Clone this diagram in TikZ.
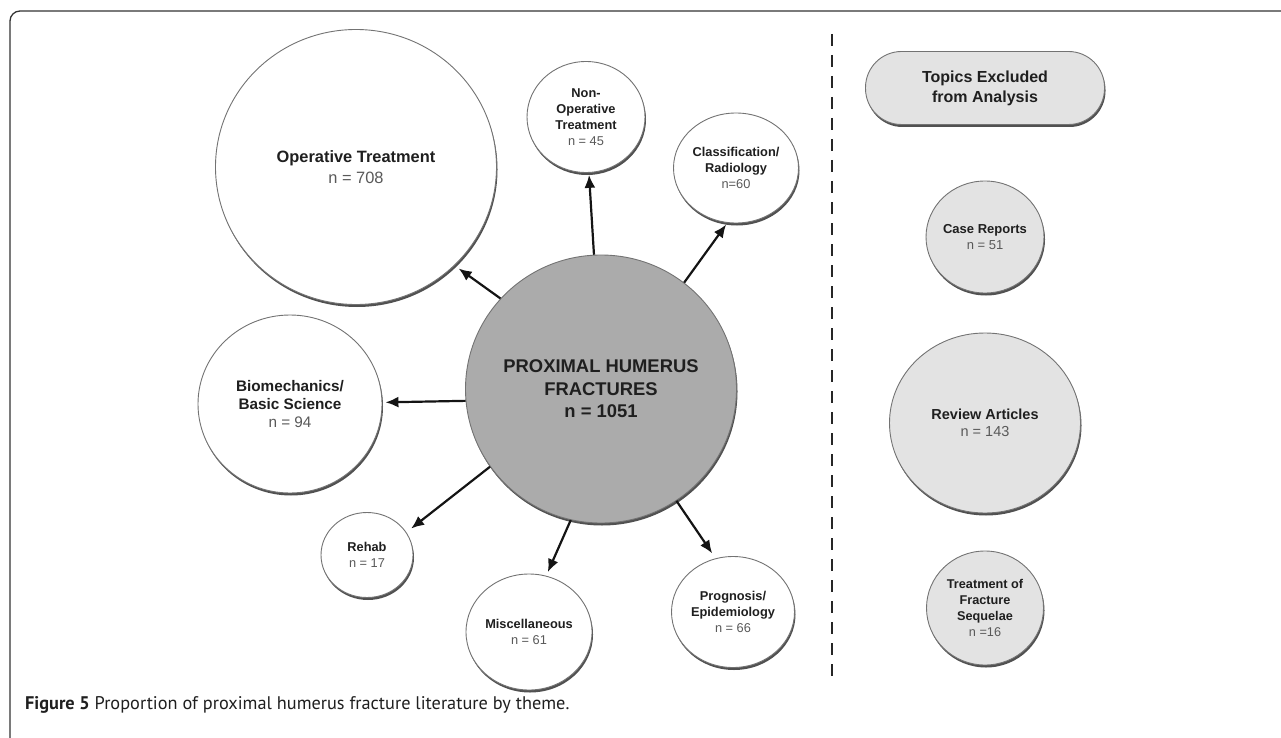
\documentclass[tikz,border=0pt]{standalone}
\usepackage{fontspec}
\setmainfont{Liberation Sans}
\newfontfamily\capfont{PT Sans}
\usetikzlibrary{shapes.geometric,shadows,arrows.meta}
\newcommand{\nl}[1]{{\mdseries\color{black!65}#1}}
\begin{document}
\begin{tikzpicture}[x=1pt,y=-1pt,
  shad/.style={drop shadow={shadow xshift=1pt,shadow yshift=-2.5pt,fill=black!80,opacity=0.85}},
  bub/.style={ellipse,draw=black!55,line width=0.9pt,fill=white,inner sep=-10pt,align=center,text=black!88,shad},
  exbub/.style={bub,fill=black!11},
  arr/.style={-{Latex[length=13pt,width=11pt]},line width=2.2pt,black!92},
  fsmall/.style={font=\bfseries\fontsize{12.8}{16}\selectfont},
]
\useasboundingbox (0,0) rectangle (1281,738);
% frame
\draw[line width=1.3pt,black!80,rounded corners=10pt] (10,11) rectangle (1330,770);

% central
\node[bub,fill=black!33,minimum width=271pt,minimum height=268pt,font=\bfseries\fontsize{18.4}{22.5}\selectfont] (c) at (601,389) {PROXIMAL HUMERUS\\FRACTURES\\n = 1051};

% satellites
\node[bub,minimum width=281pt,minimum height=275pt,font=\bfseries\fontsize{16.4}{21}\selectfont] (op) at (356,167) {Operative Treatment\\\nl{n = 708}};
\node[bub,minimum width=118pt,minimum height=111pt,fsmall] (nonop) at (586,117) {Non-\\Operative\\Treatment\\\nl{n = 45}};
\node[bub,minimum width=125pt,minimum height=110pt,fsmall] (cls) at (736,168) {Classification/\\Radiology\\\nl{n=60}};
\node[bub,minimum width=184pt,minimum height=178pt,font=\bfseries\fontsize{15.3}{18}\selectfont] (bio) at (290,404) {Biomechanics/\\Basic Science\\\nl{n = 94}};
\node[bub,minimum width=92pt,minimum height=85pt,fsmall] (reh) at (367,555) {Rehab\\\nl{n = 17}};
\node[bub,minimum width=126pt,minimum height=116pt,fsmall] (misc) at (529,632) {Miscellaneous\\\nl{n = 61}};
\node[bub,minimum width=123pt,minimum height=111pt,fsmall] (prog) at (733,612) {Prognosis/\\Epidemiology\\\nl{n = 66}};

% arrows
\draw[arr,shorten >=5pt] (c.138) -- (op.-45);
\draw[arr,shorten >=2pt] (c.93) -- (nonop.-87);
\draw[arr,shorten >=2pt] (c.52) -- (cls.-99);
\draw[arr,shorten >=3pt] (c.185) -- (bio.1);
\draw[arr,shorten >=6pt] (c.215) -- (reh.30);
\draw[arr,shorten >=4pt] (c.-103) -- (misc.73);
\draw[arr,shorten >=6pt] (c.-56) -- (prog.108);

% divider
\coordinate (dtop) at (832,34);
\coordinate (dbot) at (832,680);
\draw[line width=2.6pt,black!85,dash pattern=on 12pt off 9pt] (dtop) -- (dbot);

% excluded topics
\node[draw=black!55,line width=0.9pt,fill=black!11,rounded corners=36pt,minimum width=239pt,minimum height=73pt,align=center,text=black!88,shad,font=\bfseries\fontsize{16}{20}\selectfont] (topics) at (985,88) {Topics Excluded\\from Analysis};
\node[exbub,minimum width=118pt,minimum height=112pt,font=\bfseries\fontsize{13}{16}\selectfont] (case) at (985,237) {Case Reports\\\nl{n = 51}};
\node[exbub,minimum width=191pt,minimum height=180pt,font=\bfseries\fontsize{14.5}{17}\selectfont] (rev) at (985,423) {Review Articles\\\nl{n = 143}};
\node[exbub,minimum width=117pt,minimum height=114pt,font=\bfseries\fontsize{12.7}{16}\selectfont] (seq) at (985,608) {Treatment of\\Fracture\\Sequelae\\\nl{n =16}};

% caption
\node[anchor=base west,inner sep=0,text=black!88,font=\capfont\fontsize{18.3}{20}\selectfont] (cap) at (25,709) {\textbf{Figure 5} Proportion of proximal humerus fracture literature by theme.};
\end{tikzpicture}
\end{document}
